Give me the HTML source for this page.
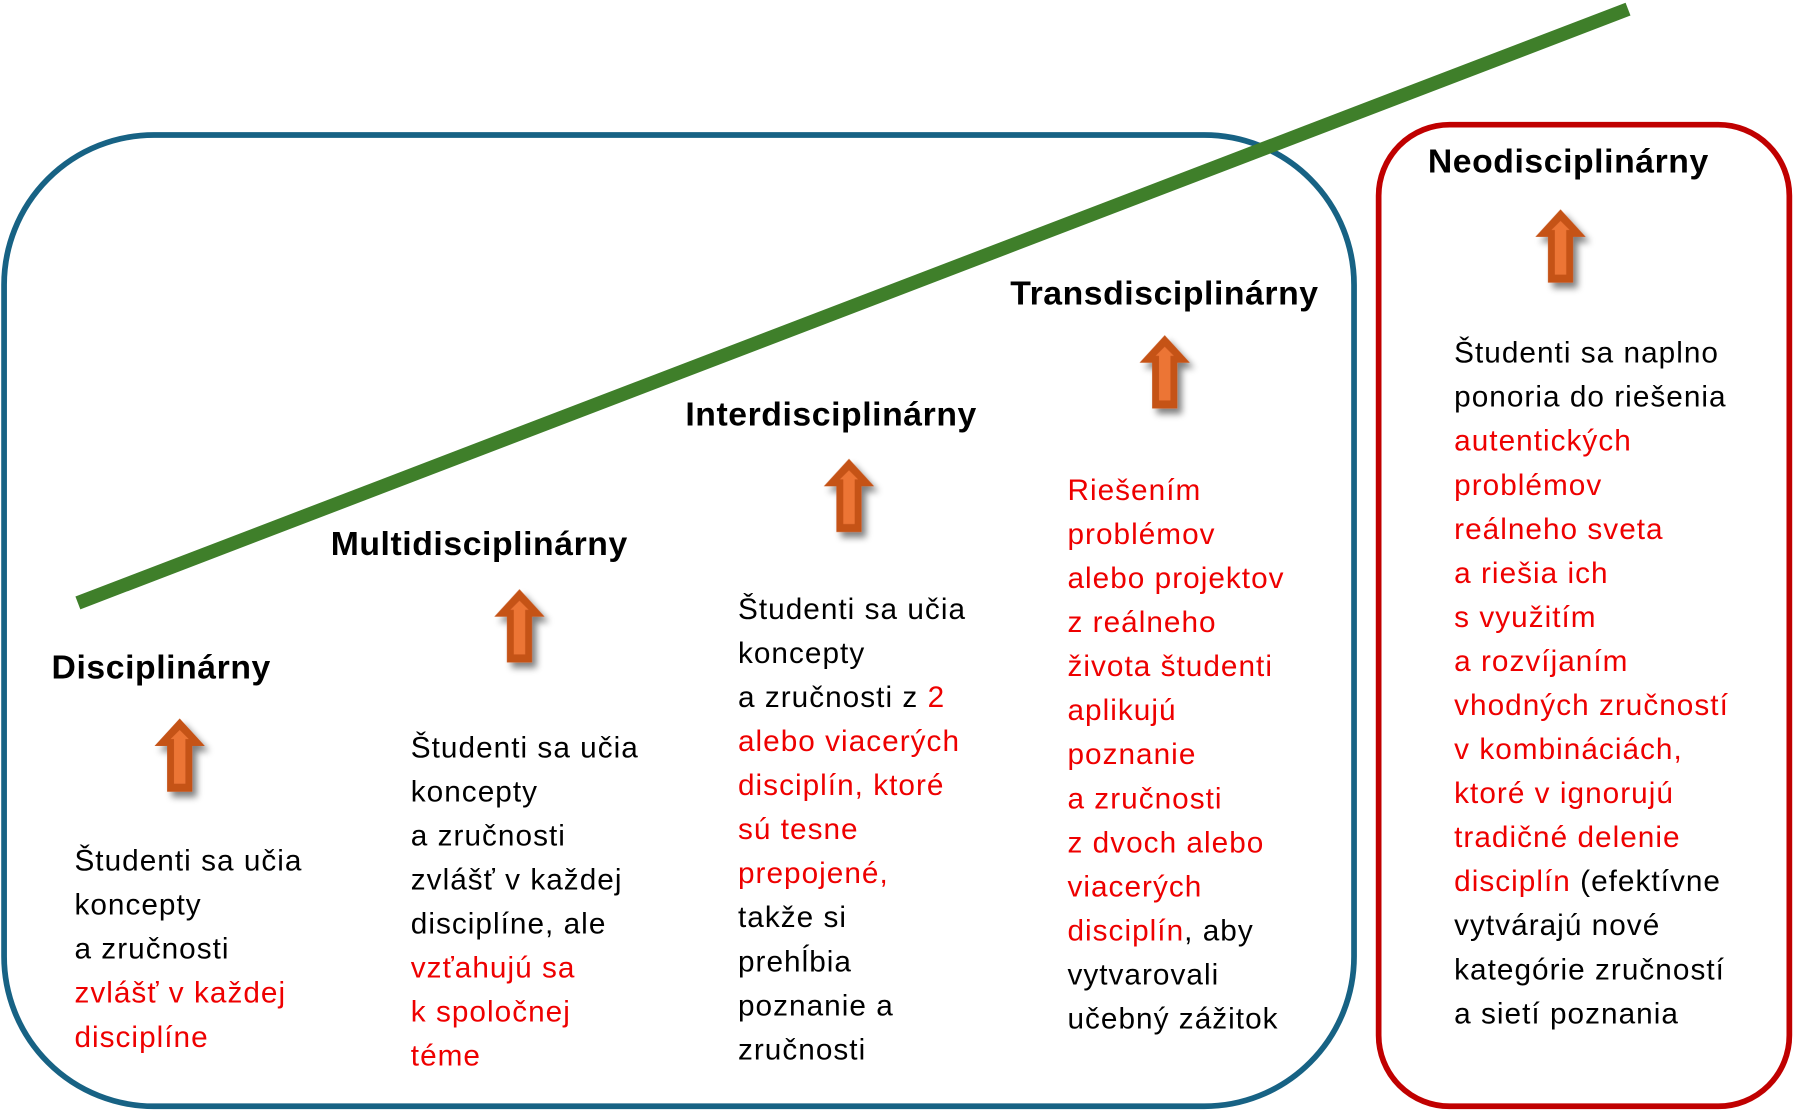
<!DOCTYPE html>
<html><head><meta charset="utf-8"><style>
html,body{margin:0;padding:0;background:#fff;}
svg{display:block;}
text{font-family:"Liberation Sans",sans-serif;}
.h{font-weight:bold;font-size:29.5px;letter-spacing:0.5px;fill:#000;}
.t{font-size:26px;letter-spacing:0.9px;fill:#000;}
.r{fill:#ee0000;}
</style></head><body>
<svg width="1794" height="1112" viewBox="0 0 1568 972" xmlns="http://www.w3.org/2000/svg">
<defs>
<filter id="sh" x="-50%" y="-50%" width="200%" height="200%">
<feGaussianBlur in="SourceAlpha" stdDeviation="3"/>
<feOffset dx="4" dy="5" result="o"/>
<feComponentTransfer><feFuncA type="linear" slope="0.5"/></feComponentTransfer>
<feMerge><feMergeNode/><feMergeNode in="SourceGraphic"/></feMerge>
</filter>
<g id="ar">
<path d="M0,0 L22,24 L11,24 L11,64 L-11,64 L-11,24 L-22,24 Z" fill="#c55219"/>
<path d="M0,10 L8,18 L5,18 L5,57 L-5,57 L-5,18 L-8,18 Z" fill="#ec7535"/>
</g>
</defs>
<rect x="3.5" y="118" width="1180" height="849" rx="131" ry="131" fill="none" stroke="#176284" stroke-width="5"/>
<rect x="1205" y="109" width="359" height="858" rx="62" ry="62" fill="none" stroke="#c00000" stroke-width="5"/>
<line x1="68" y1="527" x2="1423" y2="8" stroke="#3f7f2a" stroke-width="12"/>

<text class="h" x="45" y="593">Disciplinárny</text>
<text class="h" x="289" y="485">Multidisciplinárny</text>
<text class="h" x="599" y="372">Interdisciplinárny</text>
<text class="h" x="883" y="266">Transdisciplinárny</text>
<text class="h" x="1248" y="151">Neodisciplinárny</text>

<g filter="url(#sh)">
<use href="#ar" x="157" y="628"/>
<use href="#ar" x="454" y="515"/>
<use href="#ar" x="742" y="401"/>
<use href="#ar" x="1018" y="293"/>
<use href="#ar" x="1364" y="183"/>
</g>

<text class="t" x="65" y="761">
<tspan x="65" dy="0">Študenti sa učia</tspan>
<tspan x="65" dy="38.5">koncepty</tspan>
<tspan x="65" dy="38.5">a zručnosti</tspan>
<tspan x="65" dy="38.5" class="r">zvlášť v každej</tspan>
<tspan x="65" dy="38.5" class="r">disciplíne</tspan>
</text>

<text class="t" x="359" y="662">
<tspan x="359" dy="0">Študenti sa učia</tspan>
<tspan x="359" dy="38.5">koncepty</tspan>
<tspan x="359" dy="38.5">a zručnosti</tspan>
<tspan x="359" dy="38.5">zvlášť v každej</tspan>
<tspan x="359" dy="38.5">disciplíne, ale</tspan>
<tspan x="359" dy="38.5" class="r">vzťahujú sa</tspan>
<tspan x="359" dy="38.5" class="r">k spoločnej</tspan>
<tspan x="359" dy="38.5" class="r">téme</tspan>
</text>

<text class="t" x="645" y="541">
<tspan x="645" dy="0">Študenti sa učia</tspan>
<tspan x="645" dy="38.5">koncepty</tspan>
<tspan x="645" dy="38.5">a zručnosti z <tspan class="r">2</tspan></tspan>
<tspan x="645" dy="38.5" class="r">alebo viacerých</tspan>
<tspan x="645" dy="38.5" class="r">disciplín, ktoré</tspan>
<tspan x="645" dy="38.5" class="r">sú tesne</tspan>
<tspan x="645" dy="38.5" class="r">prepojené,</tspan>
<tspan x="645" dy="38.5">takže si</tspan>
<tspan x="645" dy="38.5">prehĺbia</tspan>
<tspan x="645" dy="38.5">poznanie a</tspan>
<tspan x="645" dy="38.5">zručnosti</tspan>
</text>

<text class="t" x="933" y="437">
<tspan x="933" dy="0" class="r">Riešením</tspan>
<tspan x="933" dy="38.5" class="r">problémov</tspan>
<tspan x="933" dy="38.5" class="r">alebo projektov</tspan>
<tspan x="933" dy="38.5" class="r">z reálneho</tspan>
<tspan x="933" dy="38.5" class="r">života študenti</tspan>
<tspan x="933" dy="38.5" class="r">aplikujú</tspan>
<tspan x="933" dy="38.5" class="r">poznanie</tspan>
<tspan x="933" dy="38.5" class="r">a zručnosti</tspan>
<tspan x="933" dy="38.5" class="r">z dvoch alebo</tspan>
<tspan x="933" dy="38.5" class="r">viacerých</tspan>
<tspan x="933" dy="38.5"><tspan class="r">disciplín</tspan>, aby</tspan>
<tspan x="933" dy="38.5">vytvarovali</tspan>
<tspan x="933" dy="38.5">učebný zážitok</tspan>
</text>

<text class="t" x="1271" y="317">
<tspan x="1271" dy="0">Študenti sa naplno</tspan>
<tspan x="1271" dy="38.5">ponoria do riešenia</tspan>
<tspan x="1271" dy="38.5" class="r">autentických</tspan>
<tspan x="1271" dy="38.5" class="r">problémov</tspan>
<tspan x="1271" dy="38.5" class="r">reálneho sveta</tspan>
<tspan x="1271" dy="38.5" class="r">a riešia ich</tspan>
<tspan x="1271" dy="38.5" class="r">s využitím</tspan>
<tspan x="1271" dy="38.5" class="r">a rozvíjaním</tspan>
<tspan x="1271" dy="38.5" class="r">vhodných zručností</tspan>
<tspan x="1271" dy="38.5" class="r">v kombináciách,</tspan>
<tspan x="1271" dy="38.5" class="r">ktoré v ignorujú</tspan>
<tspan x="1271" dy="38.5" class="r">tradičné delenie</tspan>
<tspan x="1271" dy="38.5"><tspan class="r">disciplín</tspan> (efektívne</tspan>
<tspan x="1271" dy="38.5">vytvárajú nové</tspan>
<tspan x="1271" dy="38.5">kategórie zručností</tspan>
<tspan x="1271" dy="38.5">a sietí poznania</tspan>
</text>
</svg>
</body></html>
